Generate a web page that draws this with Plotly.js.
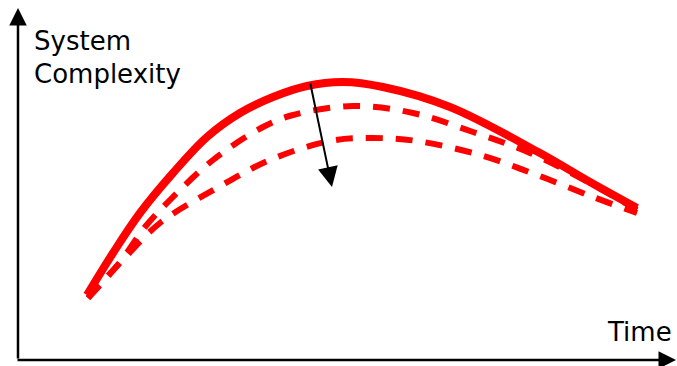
<!DOCTYPE html>
<html>
<head>
<meta charset="utf-8">
<script src="https://cdn.plot.ly/plotly-3.0.1.min.js"></script>
<style>
  html, body { margin: 0; padding: 0; background: #fff; }
  #chart { width: 677px; height: 366px; }
</style>
</head>
<body>
<div id="chart"></div>
<script>
// data (time, complexity)
var solidTime = [87, 113, 140, 173, 207, 240, 273, 307, 343, 383, 450, 540, 590, 637];
var solidComplexity = [71, 113, 153, 193, 229, 253, 269, 280, 284, 279, 259, 213, 184, 158];

var dash1Time = [88, 120, 145, 170, 213, 263, 293, 353, 413, 473, 530, 590, 637];
var dash1Complexity = [68, 104, 139, 166, 206, 239, 251, 260, 253, 234, 213, 183, 156];

var dash2Time = [88, 120, 160, 217, 270, 330, 372, 417, 480, 537, 593, 637];
var dash2Complexity = [68, 103, 143, 178, 206, 225, 228, 225, 211, 191, 169, 153];

var red = '#ff0000';

var traceSolid = {
    x: solidTime,
    y: solidComplexity,
    mode: 'lines',
    line: { color: red, width: 8, shape: 'spline', smoothing: 1 }
};

var traceDash1 = {
    x: dash1Time,
    y: dash1Complexity,
    mode: 'lines',
    line: { color: red, width: 6, shape: 'spline', smoothing: 1, dash: '17px,13px' }
};

var traceDash2 = {
    x: dash2Time,
    y: dash2Complexity,
    mode: 'lines',
    line: { color: red, width: 6, shape: 'spline', smoothing: 1, dash: '17px,13px' }
};

var data = [traceDash2, traceDash1, traceSolid];

var textFont = { family: 'DejaVu Sans', size: 26, color: '#000' };

var layout = {
    width: 677,
    height: 366,
    margin: { l: 0, r: 0, t: 0, b: 0 },
    paper_bgcolor: '#fff',
    plot_bgcolor: '#fff',
    showlegend: false,
    xaxis: { range: [0, 677], visible: false, fixedrange: true },
    yaxis: { range: [0, 366], visible: false, fixedrange: true },
    annotations: [
        // y axis arrow
        { x: 18, y: 358, ax: 18, ay: 6, xref: 'x', yref: 'y', axref: 'x', ayref: 'y',
          text: '', showarrow: true, arrowhead: 2, arrowsize: 1.4, arrowwidth: 2.5, arrowcolor: '#000' },
        // x axis arrow
        { x: 676, y: 6, ax: 16, ay: 6, xref: 'x', yref: 'y', axref: 'x', ayref: 'y',
          text: '', showarrow: true, arrowhead: 2, arrowsize: 1.4, arrowwidth: 2.5, arrowcolor: '#000' },
        // trend arrow
        { x: 332, y: 179, ax: 310, ay: 284, xref: 'x', yref: 'y', axref: 'x', ayref: 'y',
          text: '', showarrow: true, arrowhead: 2, arrowsize: 2, arrowwidth: 2, arrowcolor: '#000' },
        { x: 32, y: 325, xref: 'x', yref: 'y', xanchor: 'left', yanchor: 'middle',
          text: 'System', showarrow: false, font: textFont },
        { x: 32, y: 292, xref: 'x', yref: 'y', xanchor: 'left', yanchor: 'middle',
          text: 'Complexity', showarrow: false, font: textFont },
        { x: 674, y: 34, xref: 'x', yref: 'y', xanchor: 'right', yanchor: 'middle',
          text: 'Time', showarrow: false, font: textFont }
    ]
};

Plotly.newPlot('chart', data, layout, { displayModeBar: false, staticPlot: true });
</script>
</body>
</html>
